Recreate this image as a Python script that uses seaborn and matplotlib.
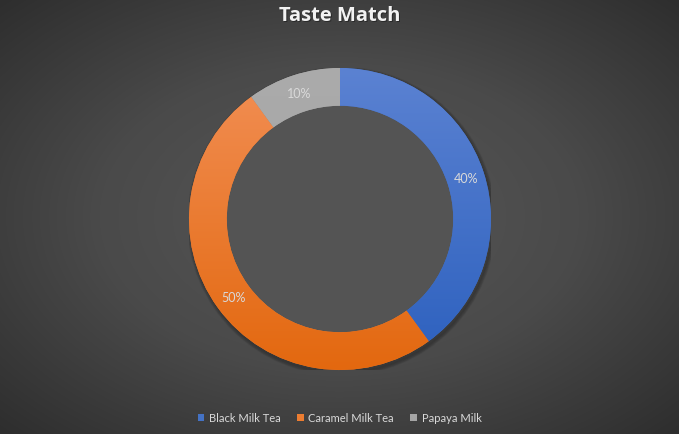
import numpy as np
import seaborn as sns
import matplotlib
matplotlib.use("Agg")
import matplotlib.pyplot as plt
from matplotlib.colors import LinearSegmentedColormap
from matplotlib.patches import Patch

# data
drinks = ["Black Milk Tea", "Caramel Milk Tea", "Papaya Milk"]
shares = [40, 50, 10]
top_colors = ["#5b82d2", "#f28f55", "#ababab"]
bottom_colors = ["#2c60be", "#e3680f", "#a0a0a0"]
legend_colors = ["#4472c4", "#ed7d31", "#a5a5a5"]

sns.set_theme(style="dark")
plt.rcParams["font.family"] = ["Lato", "DejaVu Sans"]

fig = plt.figure(figsize=(6.79, 4.35), dpi=100)

# radial background
bg = fig.add_axes([0, 0, 1, 1])
xx, yy = np.meshgrid(np.linspace(-1, 1, 679), np.linspace(-1, 1, 435))
r = np.clip(np.sqrt(xx**2 + yy**2) / np.sqrt(2), 0, 1)
bg_cmap = LinearSegmentedColormap.from_list("bg", ["#575757", "#4a4a4a", "#2e2e2e"])
bg.imshow(r, cmap=bg_cmap, aspect="auto", extent=[0, 1, 0, 1], vmin=0, vmax=1)
bg.set_axis_off()

# donut
ax = fig.add_axes([189 / 679, 64 / 435, 302 / 679, 302 / 435])
ax.set_facecolor("none")
wedges, texts, autotexts = ax.pie(
    shares,
    startangle=90,
    counterclock=False,
    radius=1.0,
    colors=legend_colors,
    wedgeprops=dict(width=0.25, linewidth=0),
    autopct="%1.0f%%",
    pctdistance=0.875,
    textprops=dict(color="#d9d9d9", fontsize=9),
)

# soft shadow behind the ring
for k in range(6):
    sh = plt.Circle((0.01, -0.015), 1.0 + 0.004 * k, color="black",
                    alpha=0.035, zorder=0, transform=ax.transData)
    ax.add_patch(sh)
inner = plt.Circle((0, 0), 0.75, color="#545454", zorder=0.5)
ax.add_patch(inner)

# vertical gradient on each slice
for w, c_top, c_bot in zip(wedges, top_colors, bottom_colors):
    grad = LinearSegmentedColormap.from_list("g", [c_bot, c_top])
    im = ax.imshow(np.linspace(0, 1, 256).reshape(-1, 1), cmap=grad,
                   extent=[-1, 1, -1, 1], origin="lower", aspect="auto", zorder=1)
    im.set_clip_path(w)
    w.set_zorder(0.8)

for t in autotexts:
    t.set_zorder(3)

ax.set_xlim(-1, 1)
ax.set_ylim(-1, 1)
ax.set_aspect("auto")
ax.set_axis_off()

# title with a faint shadow
title_font = ["Open Sans", "DejaVu Sans"]
fig.text(0.5 + 0.0015, 1 - 16 / 435 - 0.003, "Taste Match", ha="center", va="center",
         fontsize=14.5, fontweight="bold", color="#1a1a1a", alpha=0.6, family=title_font)
fig.text(0.5, 1 - 16 / 435, "Taste Match", ha="center", va="center",
         fontsize=14.5, fontweight="bold", color="#f2f2f2", family=title_font)

handles = [Patch(facecolor=c, edgecolor="none") for c in legend_colors]
leg = fig.legend(handles, drinks, loc="center", bbox_to_anchor=(0.5, 1 - 419 / 435),
                 ncol=3, frameon=False, fontsize=8, handlelength=0.6, handleheight=0.6,
                 handletextpad=0.4, columnspacing=1.5, labelcolor="#d9d9d9")

fig.savefig("out.png", dpi=100)
